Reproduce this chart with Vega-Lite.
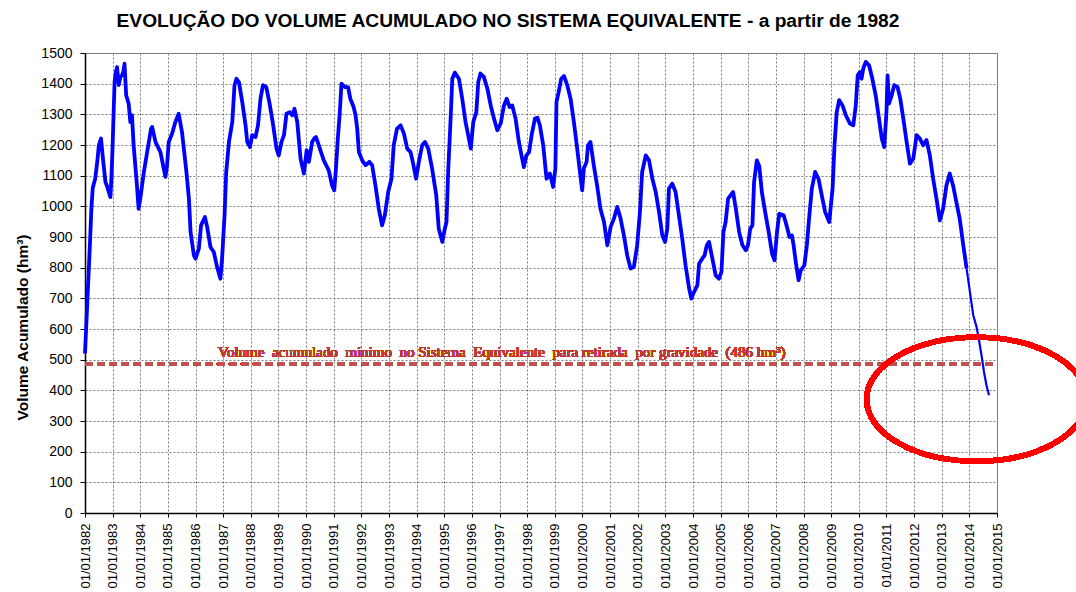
{
 "$schema": "https://vega.github.io/schema/vega-lite/v6.json",
 "width": 912,
 "height": 460,
 "autosize": {"type": "none"},
 "padding": {"left": 85, "top": 53, "right": 79, "bottom": 79},
 "background": "white",
 "config": {
  "view": {"stroke": "#7f7f7f", "strokeWidth": 1},
  "font": "Liberation Sans",
  "axis": {"labelFontSize": 14, "labelColor": "#000000", "labelFont": "Liberation Sans", "tickColor": "#000000", "domainColor": "#000000", "domainWidth": 1.5,
   "grid": true, "gridColor": "#7a7a7a", "gridDash": [2, 2], "gridWidth": 1, "labelOverlap": false, "labelFlush": false, "labelBound": false},
  "axisX": {"labelAngle": 270, "labelPadding": 6, "tickSize": 4, "labelFontSize": 13},
  "axisY": {"labelPadding": 8, "tickSize": 5, "titleFontSize": 15.5, "titleFontWeight": "bold", "titleColor": "#000000", "titleFont": "Liberation Sans", "titlePadding": 10, "titleY": 274}
 },
 "title": {"text": "EVOLUÇÃO DO VOLUME ACUMULADO NO SISTEMA EQUIVALENTE  - a partir de 1982", "fontSize": 19.2, "font": "Liberation Sans", "fontWeight": "bold", "color": "#000000", "anchor": "middle", "frame": "group", "dx": -33, "offset": 15},
 "data": {"values": [
  {"t":1982.00,"v":520},{"t":1982.04,"v":600},{"t":1982.08,"v":680},{"t":1982.13,"v":780},{"t":1982.18,"v":880},{"t":1982.23,"v":990},{"t":1982.28,"v":1060},{"t":1982.37,"v":1090},{"t":1982.45,"v":1150},{"t":1982.50,"v":1199},{"t":1982.58,"v":1221},{"t":1982.65,"v":1155},{"t":1982.74,"v":1079},{"t":1982.80,"v":1065},{"t":1982.86,"v":1047},{"t":1982.92,"v":1030},{"t":1982.96,"v":1100},
  {"t":1983.00,"v":1200},{"t":1983.07,"v":1405},{"t":1983.12,"v":1440},{"t":1983.16,"v":1454},{"t":1983.22,"v":1395},{"t":1983.28,"v":1422},{"t":1983.34,"v":1427},{"t":1983.39,"v":1440},{"t":1983.43,"v":1465},{"t":1983.49,"v":1362},{"t":1983.58,"v":1335},{"t":1983.64,"v":1275},{"t":1983.70,"v":1297},{"t":1983.76,"v":1199},{"t":1983.88,"v":1068},{"t":1983.94,"v":992},
  {"t":1984.00,"v":1025},{"t":1984.13,"v":1112},{"t":1984.25,"v":1177},{"t":1984.39,"v":1253},{"t":1984.43,"v":1259},{"t":1984.55,"v":1210},{"t":1984.73,"v":1177},{"t":1984.91,"v":1096},{"t":1984.97,"v":1134},
  {"t":1985.03,"v":1210},{"t":1985.15,"v":1237},{"t":1985.27,"v":1275},{"t":1985.39,"v":1302},{"t":1985.51,"v":1242},{"t":1985.67,"v":1112},{"t":1985.76,"v":1025},{"t":1985.82,"v":916},{"t":1985.94,"v":840},
  {"t":1986.00,"v":829},{"t":1986.12,"v":862},{"t":1986.20,"v":938},{"t":1986.34,"v":965},{"t":1986.42,"v":933},{"t":1986.54,"v":867},{"t":1986.66,"v":851},{"t":1986.78,"v":802},{"t":1986.90,"v":764},{"t":1986.96,"v":829},
  {"t":1987.05,"v":971},{"t":1987.11,"v":1112},{"t":1987.21,"v":1210},{"t":1987.33,"v":1275},{"t":1987.41,"v":1395},{"t":1987.48,"v":1416},{"t":1987.57,"v":1405},{"t":1987.69,"v":1340},{"t":1987.81,"v":1264},{"t":1987.87,"v":1210},{"t":1987.97,"v":1193},
  {"t":1988.05,"v":1232},{"t":1988.17,"v":1226},{"t":1988.26,"v":1264},{"t":1988.35,"v":1351},{"t":1988.44,"v":1395},{"t":1988.56,"v":1389},{"t":1988.68,"v":1335},{"t":1988.81,"v":1264},{"t":1988.93,"v":1188},
  {"t":1989.01,"v":1166},{"t":1989.11,"v":1210},{"t":1989.20,"v":1232},{"t":1989.29,"v":1302},{"t":1989.41,"v":1307},{"t":1989.50,"v":1297},{"t":1989.58,"v":1318},{"t":1989.68,"v":1275},{"t":1989.80,"v":1155},{"t":1989.92,"v":1107},
  {"t":1990.02,"v":1183},{"t":1990.10,"v":1145},{"t":1990.22,"v":1210},{"t":1990.30,"v":1222},{"t":1990.36,"v":1226},{"t":1990.46,"v":1199},{"t":1990.64,"v":1150},{"t":1990.82,"v":1117},{"t":1990.94,"v":1068},
  {"t":1991.02,"v":1052},{"t":1991.08,"v":1123},{"t":1991.14,"v":1210},{"t":1991.22,"v":1307},{"t":1991.28,"v":1400},{"t":1991.40,"v":1389},{"t":1991.52,"v":1389},{"t":1991.60,"v":1351},{"t":1991.72,"v":1324},{"t":1991.79,"v":1297},{"t":1991.85,"v":1253},{"t":1991.91,"v":1177},
  {"t":1992.03,"v":1150},{"t":1992.15,"v":1134},{"t":1992.29,"v":1145},{"t":1992.39,"v":1134},{"t":1992.51,"v":1068},{"t":1992.63,"v":992},{"t":1992.75,"v":938},{"t":1992.85,"v":971},{"t":1992.97,"v":1047},
  {"t":1993.09,"v":1090},{"t":1993.17,"v":1199},{"t":1993.29,"v":1253},{"t":1993.42,"v":1264},{"t":1993.54,"v":1237},{"t":1993.66,"v":1188},{"t":1993.78,"v":1177},{"t":1993.86,"v":1145},{"t":1993.98,"v":1090},
  {"t":1994.08,"v":1145},{"t":1994.20,"v":1199},{"t":1994.30,"v":1210},{"t":1994.42,"v":1188},{"t":1994.56,"v":1123},{"t":1994.71,"v":1036},{"t":1994.80,"v":927},{"t":1994.93,"v":884},
  {"t":1995.02,"v":927},{"t":1995.08,"v":949},{"t":1995.14,"v":1112},{"t":1995.23,"v":1286},{"t":1995.29,"v":1416},{"t":1995.38,"v":1436},{"t":1995.53,"v":1416},{"t":1995.65,"v":1351},{"t":1995.77,"v":1275},{"t":1995.89,"v":1221},{"t":1995.96,"v":1188},
  {"t":1996.05,"v":1275},{"t":1996.16,"v":1307},{"t":1996.23,"v":1405},{"t":1996.31,"v":1433},{"t":1996.43,"v":1422},{"t":1996.56,"v":1384},{"t":1996.68,"v":1329},{"t":1996.80,"v":1286},{"t":1996.92,"v":1248},
  {"t":1997.04,"v":1270},{"t":1997.16,"v":1329},{"t":1997.26,"v":1351},{"t":1997.36,"v":1324},{"t":1997.46,"v":1329},{"t":1997.58,"v":1286},{"t":1997.70,"v":1210},{"t":1997.82,"v":1155},{"t":1997.88,"v":1128},{"t":1997.97,"v":1166},
  {"t":1998.07,"v":1177},{"t":1998.16,"v":1232},{"t":1998.28,"v":1286},{"t":1998.37,"v":1289},{"t":1998.46,"v":1264},{"t":1998.58,"v":1199},{"t":1998.70,"v":1090},{"t":1998.82,"v":1107},{"t":1998.94,"v":1063},
  {"t":1999.02,"v":1123},{"t":1999.06,"v":1340},{"t":1999.14,"v":1373},{"t":1999.23,"v":1416},{"t":1999.33,"v":1425},{"t":1999.45,"v":1395},{"t":1999.57,"v":1351},{"t":1999.69,"v":1275},{"t":1999.81,"v":1188},{"t":1999.91,"v":1112},{"t":1999.99,"v":1052},
  {"t":2000.05,"v":1123},{"t":2000.15,"v":1145},{"t":2000.20,"v":1199},{"t":2000.29,"v":1210},{"t":2000.41,"v":1134},{"t":2000.53,"v":1068},{"t":2000.65,"v":992},{"t":2000.78,"v":949},{"t":2000.90,"v":873},
  {"t":2001.02,"v":933},{"t":2001.14,"v":960},{"t":2001.26,"v":998},{"t":2001.38,"v":960},{"t":2001.50,"v":905},{"t":2001.62,"v":840},{"t":2001.74,"v":797},{"t":2001.86,"v":802},{"t":2001.98,"v":873},
  {"t":2002.08,"v":982},{"t":2002.16,"v":1112},{"t":2002.29,"v":1166},{"t":2002.41,"v":1150},{"t":2002.53,"v":1090},{"t":2002.65,"v":1047},{"t":2002.77,"v":982},{"t":2002.89,"v":905},{"t":2002.99,"v":884},
  {"t":2003.07,"v":927},{"t":2003.13,"v":1058},{"t":2003.25,"v":1074},{"t":2003.37,"v":1047},{"t":2003.49,"v":971},{"t":2003.61,"v":895},{"t":2003.73,"v":808},{"t":2003.86,"v":732},{"t":2003.94,"v":699},
  {"t":2004.04,"v":721},{"t":2004.16,"v":743},{"t":2004.22,"v":813},{"t":2004.34,"v":830},{"t":2004.42,"v":840},{"t":2004.50,"v":873},{"t":2004.58,"v":884},{"t":2004.70,"v":830},{"t":2004.82,"v":775},{"t":2004.94,"v":764},
  {"t":2005.03,"v":786},{"t":2005.10,"v":916},{"t":2005.18,"v":949},{"t":2005.27,"v":1025},{"t":2005.36,"v":1036},{"t":2005.45,"v":1047},{"t":2005.55,"v":992},{"t":2005.67,"v":916},{"t":2005.79,"v":873},{"t":2005.91,"v":857},{"t":2005.99,"v":873},
  {"t":2006.07,"v":927},{"t":2006.15,"v":938},{"t":2006.21,"v":1079},{"t":2006.31,"v":1150},{"t":2006.40,"v":1130},{"t":2006.49,"v":1047},{"t":2006.61,"v":982},{"t":2006.74,"v":916},{"t":2006.86,"v":846},{"t":2006.95,"v":824},
  {"t":2007.04,"v":916},{"t":2007.12,"v":976},{"t":2007.28,"v":971},{"t":2007.40,"v":933},{"t":2007.49,"v":900},{"t":2007.58,"v":905},{"t":2007.64,"v":873},{"t":2007.72,"v":818},{"t":2007.82,"v":759},{"t":2007.90,"v":791},
  {"t":2008.03,"v":808},{"t":2008.12,"v":873},{"t":2008.20,"v":960},{"t":2008.30,"v":1058},{"t":2008.42,"v":1112},{"t":2008.54,"v":1090},{"t":2008.66,"v":1036},{"t":2008.78,"v":982},{"t":2008.93,"v":949},
  {"t":2009.05,"v":1058},{"t":2009.12,"v":1199},{"t":2009.20,"v":1307},{"t":2009.29,"v":1346},{"t":2009.41,"v":1329},{"t":2009.53,"v":1297},{"t":2009.68,"v":1270},{"t":2009.80,"v":1264},{"t":2009.89,"v":1329},{"t":2009.96,"v":1427},
  {"t":2010.04,"v":1438},{"t":2010.10,"v":1416},{"t":2010.16,"v":1449},{"t":2010.25,"v":1471},{"t":2010.37,"v":1460},{"t":2010.49,"v":1416},{"t":2010.61,"v":1362},{"t":2010.73,"v":1286},{"t":2010.83,"v":1221},{"t":2010.92,"v":1193},
  {"t":2011.00,"v":1307},{"t":2011.04,"v":1427},{"t":2011.09,"v":1335},{"t":2011.19,"v":1362},{"t":2011.28,"v":1395},{"t":2011.40,"v":1389},{"t":2011.50,"v":1351},{"t":2011.61,"v":1286},{"t":2011.73,"v":1210},{"t":2011.85,"v":1139},{"t":2011.97,"v":1155},
  {"t":2012.09,"v":1232},{"t":2012.21,"v":1221},{"t":2012.33,"v":1199},{"t":2012.45,"v":1216},{"t":2012.57,"v":1166},{"t":2012.69,"v":1090},{"t":2012.81,"v":1025},{"t":2012.93,"v":954},
  {"t":2013.05,"v":992},{"t":2013.17,"v":1068},{"t":2013.29,"v":1107},{"t":2013.41,"v":1068},{"t":2013.53,"v":1014},{"t":2013.65,"v":960},{"t":2013.78,"v":873},{"t":2013.90,"v":797},
  {"t":2014.02,"v":721},{"t":2014.14,"v":645},{"t":2014.26,"v":607},{"t":2014.34,"v":568},{"t":2014.44,"v":514},{"t":2014.53,"v":460},{"t":2014.62,"v":416},{"t":2014.71,"v":384}
 ]},
 "layer": [
  {
   "transform": [{"filter": "datum.t <= 2013.9"}],
   "mark": {"type": "line", "color": "#0000ff", "strokeWidth": 3.8, "strokeJoin": "round"},
   "encoding": {
    "x": {"field": "t", "type": "quantitative",
     "scale": {"domain": [1982, 2015], "nice": false, "zero": false},
     "axis": {"title": null, "values": [1982,1983,1984,1985,1986,1987,1988,1989,1990,1991,1992,1993,1994,1995,1996,1997,1998,1999,2000,2001,2002,2003,2004,2005,2006,2007,2008,2009,2010,2011,2012,2013,2014,2015], "labelExpr": "'01/01/' + datum.value"}},
    "y": {"field": "v", "type": "quantitative",
     "scale": {"domain": [0, 1500], "nice": false},
     "axis": {"title": "Volume Acumulado (hm³)", "values": [0,100,200,300,400,500,600,700,800,900,1000,1100,1200,1300,1400,1500], "labelExpr": "'' + datum.value"}}
   }
  },
  {
   "transform": [{"filter": "datum.t >= 2013.9"}],
   "mark": {"type": "line", "color": "#0000ff", "strokeWidth": 2.2, "strokeJoin": "round"},
   "encoding": {
    "x": {"field": "t", "type": "quantitative",
     "axis": {"title": null, "values": [1982,1983,1984,1985,1986,1987,1988,1989,1990,1991,1992,1993,1994,1995,1996,1997,1998,1999,2000,2001,2002,2003,2004,2005,2006,2007,2008,2009,2010,2011,2012,2013,2014,2015], "labelExpr": "'01/01/' + datum.value"}},
    "y": {"field": "v", "type": "quantitative",
     "axis": {"title": "Volume Acumulado (hm³)", "values": [0,100,200,300,400,500,600,700,800,900,1000,1100,1200,1300,1400,1500], "labelExpr": "'' + datum.value"}}
   }
  },
  {
   "mark": {"type": "rule", "color": "#c0504d", "strokeWidth": 3, "strokeDash": [8, 4]},
   "encoding": {
    "x": {"datum": 1982, "type": "quantitative",
     "axis": {"title": null, "values": [1982,1983,1984,1985,1986,1987,1988,1989,1990,1991,1992,1993,1994,1995,1996,1997,1998,1999,2000,2001,2002,2003,2004,2005,2006,2007,2008,2009,2010,2011,2012,2013,2014,2015], "labelExpr": "'01/01/' + datum.value"}},
    "x2": {"datum": 2014.85},
    "y": {"datum": 486, "type": "quantitative",
     "axis": {"title": "Volume Acumulado (hm³)", "values": [0,100,200,300,400,500,600,700,800,900,1000,1100,1200,1300,1400,1500], "labelExpr": "'' + datum.value"}}
   }
  },
  {
   "mark": {"type": "text", "font": "Liberation Serif", "fontSize": 15, "fontWeight": "normal", "color": "#c0392b", "align": "center", "baseline": "alphabetic"},
   "encoding": {
    "x": {"datum": 1997.08, "type": "quantitative",
     "axis": {"title": null, "values": [1982,1983,1984,1985,1986,1987,1988,1989,1990,1991,1992,1993,1994,1995,1996,1997,1998,1999,2000,2001,2002,2003,2004,2005,2006,2007,2008,2009,2010,2011,2012,2013,2014,2015], "labelExpr": "'01/01/' + datum.value"}},
    "y": {"datum": 508, "type": "quantitative",
     "axis": {"title": "Volume Acumulado (hm³)", "values": [0,100,200,300,400,500,600,700,800,900,1000,1100,1200,1300,1400,1500], "labelExpr": "'' + datum.value"}},
    "text": {"value": "Volume\u00a0 acumulado\u00a0 mínimo\u00a0 no Sistema\u00a0 Equivalente\u00a0 para retirada\u00a0 por gravidade\u00a0 (486 hm³)"}
   }
  },
  {
   "mark": {"type": "point", "shape": "M -1 0 C -1 -0.3115 -0.5523 -0.564 0 -0.564 C 0.5523 -0.564 1 -0.3115 1 0 C 1 0.3115 0.5523 0.564 0 0.564 C -0.5523 0.564 -1 0.3115 -1 0 Z",
    "filled": false, "stroke": "#ff0000", "strokeWidth": 5, "size": 48400, "opacity": 1},
   "encoding": {
    "x": {"datum": 2014.26, "type": "quantitative",
     "axis": {"title": null, "values": [1982,1983,1984,1985,1986,1987,1988,1989,1990,1991,1992,1993,1994,1995,1996,1997,1998,1999,2000,2001,2002,2003,2004,2005,2006,2007,2008,2009,2010,2011,2012,2013,2014,2015], "labelExpr": "'01/01/' + datum.value"}},
    "y": {"datum": 371, "type": "quantitative",
     "axis": {"title": "Volume Acumulado (hm³)", "values": [0,100,200,300,400,500,600,700,800,900,1000,1100,1200,1300,1400,1500], "labelExpr": "'' + datum.value"}}
   }
  }
 ]
}
